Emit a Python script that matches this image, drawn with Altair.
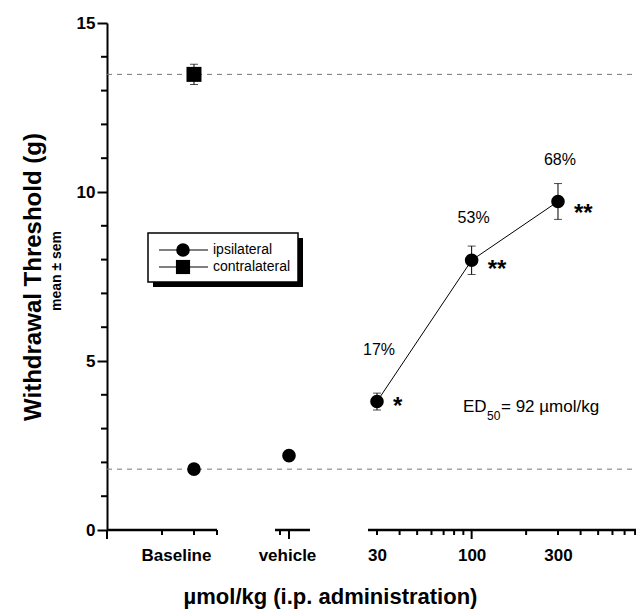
import altair as alt
import pandas as pd

# ---------------- data ----------------
GROUPS = ["Baseline", "vehicle", "30", "100", "300"]
IPSI_MEAN = [1.80, 2.20, 3.80, 7.98, 9.72]
IPSI_SEM = [0.06, 0.08, 0.25, 0.42, 0.53]
CONTRA_GROUPS = ["Baseline"]
CONTRA_MEAN = [13.48]
CONTRA_SEM = [0.30]
DOSE_GROUPS = ["30", "100", "300"]
PCT_TEXT = ["17%", "53%", "68%"]
SIG_TEXT = ["*", "**", "**"]
ED50_PARTS = ["ED", "50", " = 92 \u00b5mol/kg"]
SERIES = ["ipsilateral", "contralateral"]
Y_MAJOR = [0, 5, 10, 15]
Y_MINOR = [1, 2, 3, 4, 6, 7, 8, 9, 11, 12, 13, 14]
X_LOG_MINOR = [30, 40, 50, 60, 70, 80, 90, 200, 300, 400, 500, 600, 700, 800]
X_LOG_MAJOR = [100]

# ---------------- layout of the broken x axis (log-dose units) ----------------
W, H = 529, 507
X_DOMAIN = [0.967, 809.3]
SLOT = {"Baseline": 2.924, "vehicle": 9.793, "30": 30.0, "100": 100.0, "300": 300.0}
LABEL_AT = {"Baseline": 2.326, "vehicle": 9.547, "30": 30.0, "100": 100.0, "300": 300.0}
AXIS_SEGMENTS = [(0.967, 3.919), (8.199, 12.79), (26.76, 809.3)]
SEG_MINOR_TICKS = [1.947, 2.924, 3.919, 8.737]
SEG_MAJOR_TICKS = [0.967, 9.793]
PCT_Y = [5.33, 9.23, 10.95]
SIG_Y = [3.43, 7.49, 9.14]
ED50_AT = (89.6, 3.49)

FONT = "Liberation Sans"
xscale = alt.Scale(type="log", domain=X_DOMAIN, nice=False)
yscale = alt.Scale(domain=[0, 15], nice=False, zero=False)

label_expr = "".join(
    f"abs(datum.value - {LABEL_AT[g]}) < 0.001 ? '{g}' : " for g in GROUPS
) + "''"

x_axis = alt.Axis(
    values=[LABEL_AT[g] for g in GROUPS], labelExpr=label_expr, ticks=False, domain=False,
    grid=False, labelFont=FONT, labelFontSize=17, labelFontWeight="bold", labelColor="black",
    labelPadding=17, labelFlush=False, labelOverlap=False, labelBound=False,
    title="\u00b5mol/kg (i.p. administration)", titleFont=FONT, titleFontSize=22,
    titleFontWeight="bold", titleColor="black", titleX=223, titleY=66,
    titleAnchor="middle", titleAlign="center", titleBaseline="middle",
)
y_axis = alt.Axis(
    values=Y_MAJOR, tickSize=10, tickWidth=2, tickColor="black", domainWidth=2,
    domainColor="black", grid=False, labelFont=FONT, labelFontSize=17,
    labelFontWeight="bold", labelColor="black", labelPadding=2,
    title="Withdrawal Threshold (g)", titleFont=FONT, titleFontSize=24,
    titleFontWeight="bold", titleColor="black", titleX=-74, titleY=H / 2,
    titleAngle=270, titleAlign="center", titleBaseline="middle",
)


def XQ(field="pos"):
    return alt.X(f"{field}:Q", scale=xscale, axis=x_axis)


def YQ(field):
    return alt.Y(f"{field}:Q", scale=yscale, axis=y_axis)


ipsi = pd.DataFrame({"group": GROUPS, "mean": IPSI_MEAN, "sem": IPSI_SEM})
ipsi["pos"] = ipsi["group"].map(SLOT)
ipsi["lo"] = ipsi["mean"] - ipsi["sem"]
ipsi["hi"] = ipsi["mean"] + ipsi["sem"]
contra = pd.DataFrame({"group": CONTRA_GROUPS, "mean": CONTRA_MEAN, "sem": CONTRA_SEM})
contra["pos"] = contra["group"].map(SLOT)
contra["lo"] = contra["mean"] - contra["sem"]
contra["hi"] = contra["mean"] + contra["sem"]
dose_df = ipsi[ipsi["group"].isin(DOSE_GROUPS)].copy()

refs = pd.DataFrame({"ref": [IPSI_MEAN[0], CONTRA_MEAN[0]]})
segs = pd.DataFrame({"a": [s[0] for s in AXIS_SEGMENTS], "b": [s[1] for s in AXIS_SEGMENTS]})
xminor = pd.DataFrame({"pos": SEG_MINOR_TICKS + X_LOG_MINOR})
xmajor = pd.DataFrame({"pos": SEG_MAJOR_TICKS + X_LOG_MAJOR})
yminor = pd.DataFrame({"v": Y_MINOR})
pct = pd.DataFrame({"pos": [SLOT[g] for g in DOSE_GROUPS], "ty": PCT_Y, "text": PCT_TEXT})
sig = pd.DataFrame({"pos": [SLOT[g] for g in DOSE_GROUPS], "ty": SIG_Y, "text": SIG_TEXT})
ed = pd.DataFrame({"pos": [ED50_AT[0]], "ty": [ED50_AT[1]],
                   "p0": [ED50_PARTS[0]], "p1": [ED50_PARTS[1]], "p2": [ED50_PARTS[2]]})
leg = pd.DataFrame({"s0": [SERIES[0]], "s1": [SERIES[1]], "sub": ["mean \u00b1 sem"]})

dashed = alt.Chart(refs).mark_rule(color="#777777", strokeWidth=1, strokeDash=[5, 5]).encode(
    y=YQ("ref"), x=alt.value(0), x2=alt.value(W))

seg_lines = alt.Chart(segs).mark_rule(color="black", strokeWidth=2.5).encode(
    x=XQ("a"), x2="b:Q", y=alt.value(H))
minor_t = alt.Chart(xminor).mark_rule(color="black", strokeWidth=2).encode(
    x=XQ("pos"), y=alt.value(H), y2=alt.value(H + 5))
major_t = alt.Chart(xmajor).mark_rule(color="black", strokeWidth=2).encode(
    x=XQ("pos"), y=alt.value(H), y2=alt.value(H + 9))
yminor_t = alt.Chart(yminor).mark_rule(color="black", strokeWidth=2).encode(
    y=YQ("v"), x=alt.value(-6), x2=alt.value(0))


def errbars(df):
    bar = alt.Chart(df).mark_rule(color="black", strokeWidth=1).encode(
        x=XQ("pos"), y=YQ("lo"), y2="hi:Q")
    lo = alt.Chart(df).mark_tick(color="black", orient="horizontal", size=8, thickness=1).encode(
        x=XQ("pos"), y=YQ("lo"))
    hi = alt.Chart(df).mark_tick(color="black", orient="horizontal", size=8, thickness=1).encode(
        x=XQ("pos"), y=YQ("hi"))
    return bar + lo + hi


line = alt.Chart(dose_df).mark_line(color="black", strokeWidth=1).encode(
    x=XQ("pos"), y=YQ("mean"), order="pos:Q")

ipsi_pts = alt.Chart(ipsi).mark_point(shape="circle", filled=True, size=185, color="black",
                                      opacity=1).encode(x=XQ("pos"), y=YQ("mean"))
contra_pts = alt.Chart(contra).mark_point(shape="square", filled=True, size=225, color="black",
                                          opacity=1).encode(x=XQ("pos"), y=YQ("mean"))

pct_txt = alt.Chart(pct).mark_text(font=FONT, fontSize=16, fill="black", dx=2,
                                   baseline="middle").encode(
    x=XQ("pos"), y=YQ("ty"), text="text:N")
sig_txt = alt.Chart(sig).mark_text(font=FONT, fontSize=24, fontWeight="bold", fill="black",
                                   dx=16, align="left", baseline="alphabetic").encode(
    x=XQ("pos"), y=YQ("ty"), text="text:N")
ed0 = alt.Chart(ed).mark_text(font=FONT, fontSize=17, fill="black", align="left",
                              baseline="alphabetic").encode(x=XQ("pos"), y=YQ("ty"), text="p0:N")
ed1 = alt.Chart(ed).mark_text(font=FONT, fontSize=12, fill="#000000", opacity=1, align="left",
                              dx=24, dy=8, baseline="alphabetic").encode(
    x=XQ("pos"), y=YQ("ty"), text="p1:N")
ed2 = alt.Chart(ed).mark_text(font=FONT, fontSize=17, fill="black", align="left", dx=38,
                              baseline="alphabetic").encode(x=XQ("pos"), y=YQ("ty"), text="p2:N")

# legend box with drop shadow
shadow = alt.Chart(leg).mark_rect(color="black").encode(
    x=alt.value(46), x2=alt.value(196), y=alt.value(215), y2=alt.value(264))
box = alt.Chart(leg).mark_rect(fill="white", stroke="black", strokeWidth=1.5).encode(
    x=alt.value(41), x2=alt.value(191), y=alt.value(210), y2=alt.value(259))
l_line1 = alt.Chart(leg).mark_rule(color="black", strokeWidth=1).encode(
    x=alt.value(52), x2=alt.value(101), y=alt.value(227))
l_line2 = alt.Chart(leg).mark_rule(color="black", strokeWidth=1).encode(
    x=alt.value(52), x2=alt.value(101), y=alt.value(244))
l_c = alt.Chart(leg).mark_point(shape="circle", filled=True, size=185, color="black", opacity=1).encode(
    x=alt.value(76), y=alt.value(227))
l_s = alt.Chart(leg).mark_point(shape="square", filled=True, size=200, color="black", opacity=1).encode(
    x=alt.value(76), y=alt.value(244))
l_t1 = alt.Chart(leg).mark_text(font=FONT, fontSize=14, fill="black", align="left",
                                baseline="middle").encode(x=alt.value(106), y=alt.value(227), text="s0:N")
l_t2 = alt.Chart(leg).mark_text(font=FONT, fontSize=14, fill="black", align="left",
                                baseline="middle").encode(x=alt.value(106), y=alt.value(244), text="s1:N")
subtitle = alt.Chart(leg).mark_text(font=FONT, fontSize=14, fontWeight="bold", fill="black",
                                    angle=270, align="center", baseline="middle").encode(
    x=alt.value(-50), y=alt.value(248), text="sub:N")

chart = alt.layer(
    dashed, seg_lines, minor_t, major_t, yminor_t,
    errbars(ipsi), errbars(contra), line, ipsi_pts, contra_pts,
    pct_txt, sig_txt, ed0, ed1, ed2,
    shadow, box, l_line1, l_line2, l_c, l_s, l_t1, l_t2, subtitle,
).properties(
    width=W, height=H,
    padding={"left": 99, "top": 15, "right": 0, "bottom": 84},
    autosize=alt.AutoSizeParams(type="none"),
    background="white",
).configure_view(stroke=None)

chart.save("out.html", embed_options={"renderer": "svg", "actions": False})
